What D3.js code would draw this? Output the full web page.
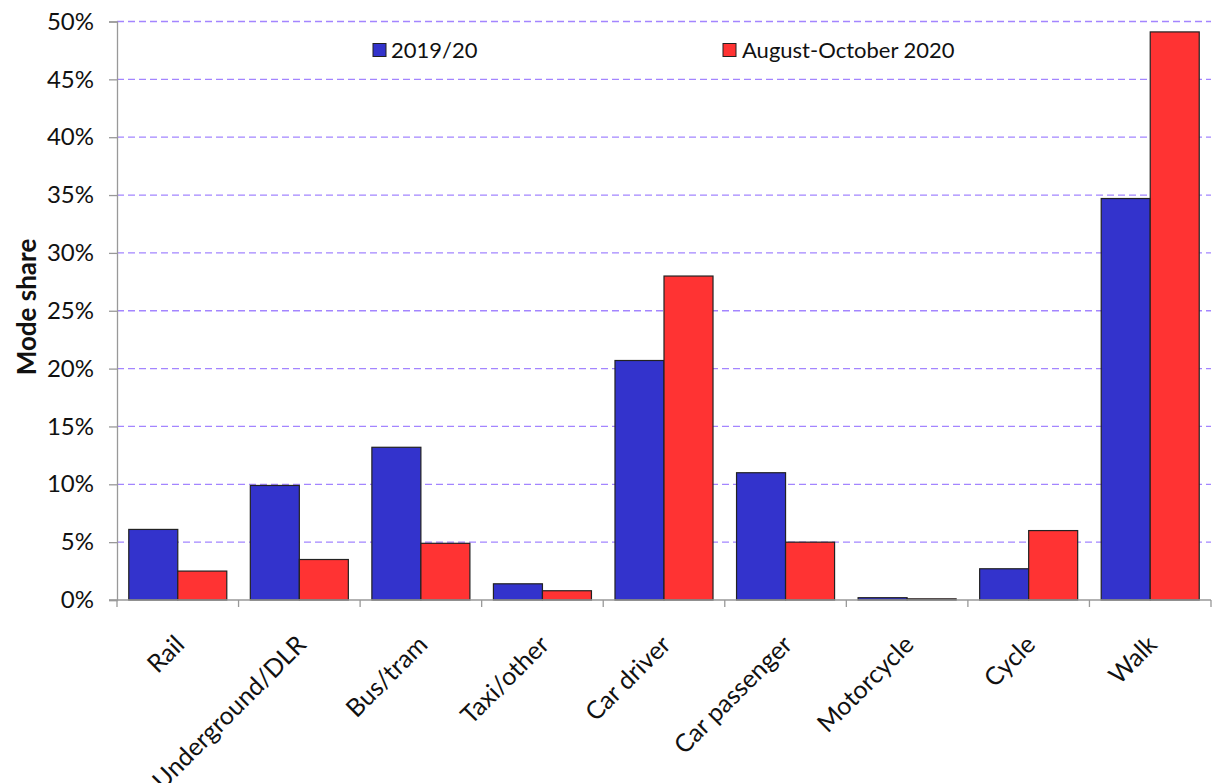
<!DOCTYPE html>
<html><head><meta charset="utf-8">
<script src="https://cdn.jsdelivr.net/npm/d3@7"></script>
<style>
body{margin:0;background:#fff;}
text{font-family:Lato, "Open Sans", sans-serif;fill:#111;}
</style></head>
<body><svg id="c" width="1213" height="783"></svg>
<script>
const categories = ["Rail","Underground/DLR","Bus/tram","Taxi/other","Car driver","Car passenger","Motorcycle","Cycle","Walk"];
const series2019 = [6.1,9.9,13.2,1.4,20.7,11.0,0.2,2.7,34.7];
const series2020 = [2.5,3.5,4.9,0.8,28.0,5.0,0.1,6.0,49.1];
const seriesNames = ["2019/20","August-October 2020"];
const colors = ["#3333cc","#ff3333"];
const yTicks = [0,5,10,15,20,25,30,35,40,45,50];

const svg = d3.select("#c");
const m = {l:117, r:1211, t:21.5, b:600};
const x = d3.scaleBand().domain(categories).range([m.l, m.r]).paddingInner(0).paddingOuter(0);
const y = d3.scaleLinear().domain([0,50]).range([m.b, m.t]);
const inner = d3.scaleBand().domain([0,1]).range([0, x.bandwidth()]).paddingInner(0).paddingOuter(0.24);

// gridlines
svg.append("g").selectAll("line").data(yTicks.filter(d=>d>0)).join("line")
  .attr("x1", m.l).attr("x2", m.r).attr("y1", d=>y(d)).attr("y2", d=>y(d))
  .attr("stroke","#a385ff").attr("stroke-width",1.3).attr("stroke-dasharray","7,4");

// bars
const data = categories.map((c,i)=>({c, v:[series2019[i], series2020[i]]}));
const g = svg.append("g").selectAll("g").data(data).join("g").attr("transform", d=>`translate(${x(d.c)},0)`);
g.selectAll("rect").data(d=>d.v.map((v,k)=>({v,k}))).join("rect")
  .attr("x", d=>inner(d.k)).attr("width", inner.bandwidth())
  .attr("y", d=>y(d.v)).attr("height", d=>y(0)-y(d.v))
  .attr("fill", d=>colors[d.k]).attr("stroke","#222").attr("stroke-width",1.2);

// y axis
const ya = svg.append("g").attr("transform",`translate(${m.l},0)`)
  .call(d3.axisLeft(y).tickValues(yTicks).tickFormat(d=>d+"%").tickSize(8).tickPadding(15));
ya.select(".domain").attr("stroke","#999").attr("stroke-width",1.3);
ya.selectAll(".tick line").attr("stroke","#999").attr("stroke-width",1.3);
ya.selectAll(".tick text").attr("font-size",24).attr("font-family","Lato, sans-serif").attr("fill","#111");

// x axis
svg.append("line").attr("x1",m.l-8).attr("x2",m.r).attr("y1",m.b).attr("y2",m.b).attr("stroke","#999").attr("stroke-width",1.3);
const bounds = categories.map(c=>x(c)).concat([m.r]);
svg.append("g").selectAll("line").data(bounds).join("line")
  .attr("x1",d=>d).attr("x2",d=>d).attr("y1",m.b).attr("y2",m.b+7).attr("stroke","#999").attr("stroke-width",1.3);

svg.append("g").selectAll("text").data(categories).join("text")
  .attr("transform", d=>`translate(${x(d)+x.bandwidth()/2+2},${m.b+40}) rotate(-45)`)
  .attr("text-anchor","end").attr("dy","0.35em").attr("font-size",25).text(d=>d);

// y title
svg.append("text").attr("transform",`translate(27,${307}) rotate(-90)`)
  .attr("text-anchor","middle").attr("dy","0.35em").attr("font-size",26).attr("font-weight","bold").text("Mode share");

// legend
const lx = [373, 723];
const tx = [391, 742];
seriesNames.forEach((n,i)=>{
  svg.append("rect").attr("x",lx[i]).attr("y",43.5).attr("width",13).attr("height",13)
    .attr("fill",colors[i]).attr("stroke","#222").attr("stroke-width",1);
  svg.append("text").attr("x",tx[i]).attr("y",50).attr("dy","0.35em").attr("font-size",22).text(n);
});
</script></body></html>
